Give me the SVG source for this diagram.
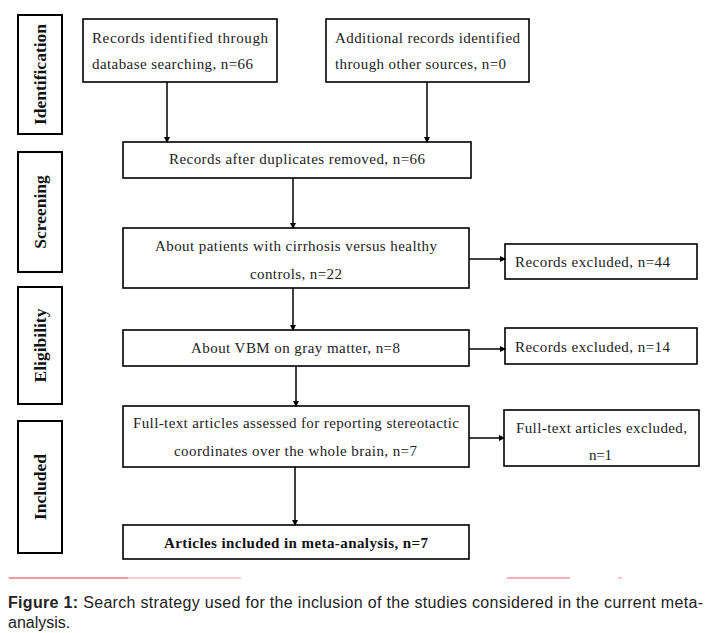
<svg xmlns="http://www.w3.org/2000/svg" width="708" height="633" viewBox="0 0 708 633">
<defs>
<style>
.box{fill:#fff;stroke:#000;stroke-width:1.6}
.side{fill:#fff;stroke:#000;stroke-width:2}
.t{font-family:"Liberation Serif","Times New Roman",serif;font-size:15px;fill:#222}
.tb{font-family:"Liberation Serif","Times New Roman",serif;font-size:15px;font-weight:bold;fill:#111}
.sl{font-family:"Liberation Serif","Times New Roman",serif;font-size:17.5px;font-weight:bold;fill:#111}
.ln{stroke:#000;stroke-width:1.5;fill:none}
.cap{font-family:"Liberation Sans Narrow","Liberation Sans",Arial,sans-serif;font-size:16px;fill:#222}
</style>
<marker id="ah" markerWidth="6" markerHeight="6" refX="5" refY="3" orient="auto" markerUnits="userSpaceOnUse">
<path d="M0,0 L6,3 L0,6 Z" fill="#000"/>
</marker>
</defs>
<rect width="708" height="633" fill="#fff"/>

<g id="side-identification"><rect class="side" x="18" y="15" width="44" height="119"/><text class="sl" transform="translate(46,74.5) rotate(-90)" text-anchor="middle">Identification</text></g>
<g id="side-screening"><rect class="side" x="18" y="152" width="44" height="120"/><text class="sl" transform="translate(46,212) rotate(-90)" text-anchor="middle">Screening</text></g>
<g id="side-eligibility"><rect class="side" x="18" y="287" width="44" height="117"/><text class="sl" transform="translate(46,345.5) rotate(-90)" text-anchor="middle">Eligibility</text></g>
<g id="side-included"><rect class="side" x="18" y="421" width="44" height="132"/><text class="sl" transform="translate(46,487) rotate(-90)" text-anchor="middle">Included</text></g>

<g id="n-db"><rect class="box" x="83" y="19" width="194" height="63"/>
<text class="t" x="92" y="43" textLength="176">Records identified through</text>
<text class="t" x="92" y="69" textLength="161">database searching, n=66</text></g>

<g id="n-other"><rect class="box" x="326" y="19" width="203" height="63"/>
<text class="t" x="335" y="43" textLength="185">Additional records identified</text>
<text class="t" x="335" y="69" textLength="171">through other sources, n=0</text></g>

<g id="n-dup"><rect class="box" x="123" y="142" width="348" height="36"/>
<text class="t" x="169" y="164" textLength="256">Records after duplicates removed, n=66</text></g>

<g id="n-pat"><rect class="box" x="123" y="228" width="346" height="60"/>
<text class="t" x="155" y="251" textLength="282">About patients with cirrhosis versus healthy</text>
<text class="t" x="250" y="279" textLength="92">controls, n=22</text></g>

<g id="n-ex44"><rect class="box" x="505" y="244" width="192" height="35"/>
<text class="t" x="515" y="267" textLength="155">Records excluded, n=44</text></g>

<g id="n-vbm"><rect class="box" x="123" y="330" width="346" height="36"/>
<text class="t" x="191" y="353" textLength="209">About VBM on gray matter, n=8</text></g>

<g id="n-ex14"><rect class="box" x="505" y="328" width="192" height="36"/>
<text class="t" x="515" y="352" textLength="155">Records excluded, n=14</text></g>

<g id="n-full"><rect class="box" x="123" y="406" width="346" height="61"/>
<text class="t" x="133" y="428" textLength="326">Full-text articles assessed for reporting stereotactic</text>
<text class="t" x="174" y="456" textLength="243">coordinates over the whole brain, n=7</text></g>

<g id="n-ftex"><rect class="box" x="504" y="410" width="195" height="56"/>
<text class="t" x="516" y="433" textLength="171">Full-text articles excluded,</text>
<text class="t" x="589" y="460" textLength="23">n=1</text></g>

<g id="n-final"><rect class="box" x="123" y="525" width="346" height="34"/>
<text class="tb" x="164" y="548" textLength="264">Articles included in meta-analysis, n=7</text></g>

<g id="connectors">
<line class="ln" x1="167" y1="82" x2="167" y2="142" marker-end="url(#ah)"/>
<line class="ln" x1="427" y1="82" x2="427" y2="142" marker-end="url(#ah)"/>
<line class="ln" x1="293" y1="178" x2="293" y2="228" marker-end="url(#ah)"/>
<line class="ln" x1="293" y1="288" x2="293" y2="330" marker-end="url(#ah)"/>
<line class="ln" x1="296" y1="366" x2="296" y2="406" marker-end="url(#ah)"/>
<line class="ln" x1="295" y1="467" x2="295" y2="525" marker-end="url(#ah)"/>
<line class="ln" x1="469" y1="259" x2="505" y2="259" marker-end="url(#ah)"/>
<line class="ln" x1="469" y1="349" x2="505" y2="349" marker-end="url(#ah)"/>
<line class="ln" x1="469" y1="438" x2="504" y2="438" marker-end="url(#ah)"/>
</g>

<g id="rules">
<line x1="9" y1="578" x2="128" y2="578" stroke="#e8323a" stroke-width="1.2"/>
<line x1="128" y1="578" x2="241" y2="578" stroke="#f2a0a3" stroke-width="1.2"/>
<line x1="507" y1="578" x2="570" y2="578" stroke="#ee6a70" stroke-width="1.2"/>
<line x1="618" y1="578" x2="622" y2="578" stroke="#f2a0a3" stroke-width="1.2"/>
</g>

<g id="caption">
<text class="cap" x="8" y="608" textLength="695"><tspan font-weight="bold">Figure 1:</tspan> Search strategy used for the inclusion of the studies considered in the current meta-</text>
<text class="cap" x="8" y="628">analysis.</text>
</g>
</svg>
